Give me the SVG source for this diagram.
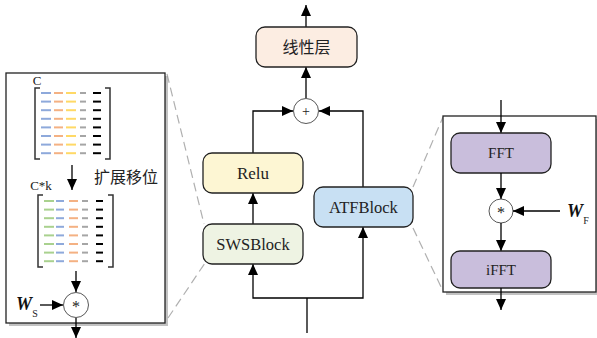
<svg xmlns="http://www.w3.org/2000/svg" width="597" height="338" viewBox="0 0 597 338">
<defs>
<marker id="ah" markerWidth="11" markerHeight="10" refX="11" refY="5" orient="auto" markerUnits="userSpaceOnUse"><path d="M0,0 L11,5 L0,10 z" fill="#000"/></marker>
<g id="m1row" stroke-width="2">
<line x1="41" y1="0" x2="51" y2="0" stroke="#8EA9DB"/>
<line x1="54" y1="0" x2="63" y2="0" stroke="#F4B183"/>
<line x1="66" y1="0" x2="76" y2="0" stroke="#FFD966"/>
<line x1="80" y1="0" x2="86" y2="0" stroke="#A5A5A5"/>
<line x1="93" y1="0" x2="101" y2="0" stroke="#000"/>
</g>
<g id="m2row" stroke-width="2">
<line x1="44" y1="0" x2="54" y2="0" stroke="#A9D18E"/>
<line x1="56" y1="0" x2="64" y2="0" stroke="#8EA9DB"/>
<line x1="69" y1="0" x2="78" y2="0" stroke="#F4B183"/>
<line x1="82" y1="0" x2="88" y2="0" stroke="#A5A5A5"/>
<line x1="96" y1="0" x2="103" y2="0" stroke="#000"/>
</g>
<style>
.ln{stroke:#000;stroke-width:1.3;fill:none}
.ar{stroke:#000;stroke-width:1.3;fill:none;marker-end:url(#ah)}
.box{stroke:#222;stroke-width:1.3}
.dash{stroke:#b0b0b0;stroke-width:1.2;stroke-dasharray:9,5;fill:none}
.circ{fill:#fff;stroke:#444;stroke-width:0.9}
.br{stroke:#333;stroke-width:1.5;fill:none}
</style>
</defs>
<rect width="597" height="338" fill="#fff"/>

<g id="zoomlines">
<line class="dash" x1="167" y1="74" x2="204" y2="224"/>
<line class="dash" x1="168" y1="318" x2="205" y2="263"/>
<line class="dash" x1="413" y1="187" x2="443" y2="117"/>
<line class="dash" x1="413" y1="228" x2="443" y2="291"/>
</g>

<g id="swsdetail" font-family="Liberation Serif, Noto Sans CJK SC, serif" fill="#222" text-anchor="middle">
<rect x="9" y="76" width="159" height="250" fill="#9a9a9a" opacity="0.6"/>
<rect x="6" y="73" width="159" height="250" fill="#fff" stroke="#222" stroke-width="1.3"/>
<text x="37" y="85" font-size="13">C</text>
<path class="br" d="M40,88 H35 V159 H40"/>
<path class="br" d="M105,88 H110 V159 H105"/>
<use href="#m1row" y="93"/><use href="#m1row" y="101.6"/><use href="#m1row" y="110.2"/><use href="#m1row" y="118.8"/>
<use href="#m1row" y="127.4"/><use href="#m1row" y="136"/><use href="#m1row" y="144.6"/><use href="#m1row" y="153.2"/>
<line class="ar" x1="72" y1="165" x2="72" y2="190"/>
<text x="126" y="183" font-size="16">扩展移位</text>
<text x="41" y="190" font-size="13">C*k</text>
<path class="br" d="M43,195 H38 V267 H43"/>
<path class="br" d="M108,195 H113 V267 H108"/>
<use href="#m2row" y="201"/><use href="#m2row" y="209.6"/><use href="#m2row" y="218.2"/><use href="#m2row" y="226.8"/>
<use href="#m2row" y="235.4"/><use href="#m2row" y="244"/><use href="#m2row" y="252.6"/><use href="#m2row" y="261.2"/>
<line class="ar" x1="76" y1="271" x2="76" y2="292"/>
<circle class="circ" cx="76" cy="305" r="12.5"/>
<text x="76" y="312" font-size="16">*</text>
<line class="ar" x1="40" y1="305" x2="63" y2="305"/>
<text x="24" y="310" font-size="18" font-style="italic" font-weight="bold" fill="#111">W</text>
<text x="35" y="317" font-size="10">S</text>
<line class="ar" x1="76" y1="318" x2="76" y2="338"/>
</g>

<g id="connectors">
<line class="ar" x1="306" y1="27" x2="306" y2="5"/>
<line class="ar" x1="306" y1="98" x2="306" y2="67"/>
<polyline class="ar" points="253,153 253,111 293,111"/>
<polyline class="ar" points="363,187 363,111 319,111"/>
<line class="ar" x1="253" y1="224" x2="253" y2="193"/>
<polyline class="ln" points="307,333 307,298"/>
<polyline class="ar" points="307,298 253,298 253,264"/>
<polyline class="ar" points="307,298 363,298 363,227"/>
</g>

<g font-family="Liberation Serif, Noto Sans CJK SC, serif" fill="#222" text-anchor="middle">
<g id="linear">
<rect class="box" x="256" y="27" width="101" height="40" rx="9" fill="#FCEDE2"/>
<text x="306.5" y="52.5" font-size="16" fill="#222">线性层</text>
</g>
<g id="plus">
<circle class="circ" cx="306" cy="111" r="12.5"/>
<text x="306" y="116" font-size="14" fill="#222">+</text>
</g>
<g id="relu">
<rect class="box" x="203" y="153" width="100" height="40" rx="9" fill="#FDF6D3"/>
<text x="253" y="179" font-size="17" fill="#222">Relu</text>
</g>
<g id="swsblock">
<rect class="box" x="203" y="224" width="100" height="40" rx="9" fill="#EEF3E3"/>
<text x="253" y="250" font-size="16.5" fill="#222">SWSBlock</text>
</g>
<g id="atfblock">
<rect class="box" x="314" y="187" width="99" height="40" rx="9" fill="#C8E0F3"/>
<text x="363.5" y="213" font-size="16.5" fill="#222">ATFBlock</text>
</g>
</g>

<g id="atfdetail" font-family="Liberation Serif, serif" text-anchor="middle">
<rect x="446" y="119" width="153" height="176" fill="#9a9a9a" opacity="0.6"/>
<rect x="443" y="116" width="153" height="176" fill="#fff" stroke="#222" stroke-width="1.3"/>
<line class="ar" x1="501" y1="100" x2="501" y2="133"/>
<g id="fft">
<rect class="box" x="451" y="133" width="100" height="40" rx="9" fill="#C9BEDC"/>
<text x="501" y="158" font-size="15" fill="#222">FFT</text>
</g>
<line class="ar" x1="501" y1="173" x2="501" y2="199"/>
<circle class="circ" cx="501" cy="211" r="12"/>
<text x="501" y="218" font-size="16" fill="#222">*</text>
<line class="ar" x1="560" y1="211" x2="513" y2="211"/>
<text x="575" y="217" font-size="18" font-style="italic" font-weight="bold" fill="#111">W</text>
<text x="586" y="224" font-size="10" fill="#222">F</text>
<line class="ar" x1="501" y1="223" x2="501" y2="251"/>
<g id="ifft">
<rect class="box" x="451" y="251" width="100" height="37" rx="9" fill="#C9BEDC"/>
<text x="501" y="274.5" font-size="15" fill="#222">iFFT</text>
</g>
<line class="ar" x1="501" y1="288" x2="501" y2="310"/>
</g>
</svg>
